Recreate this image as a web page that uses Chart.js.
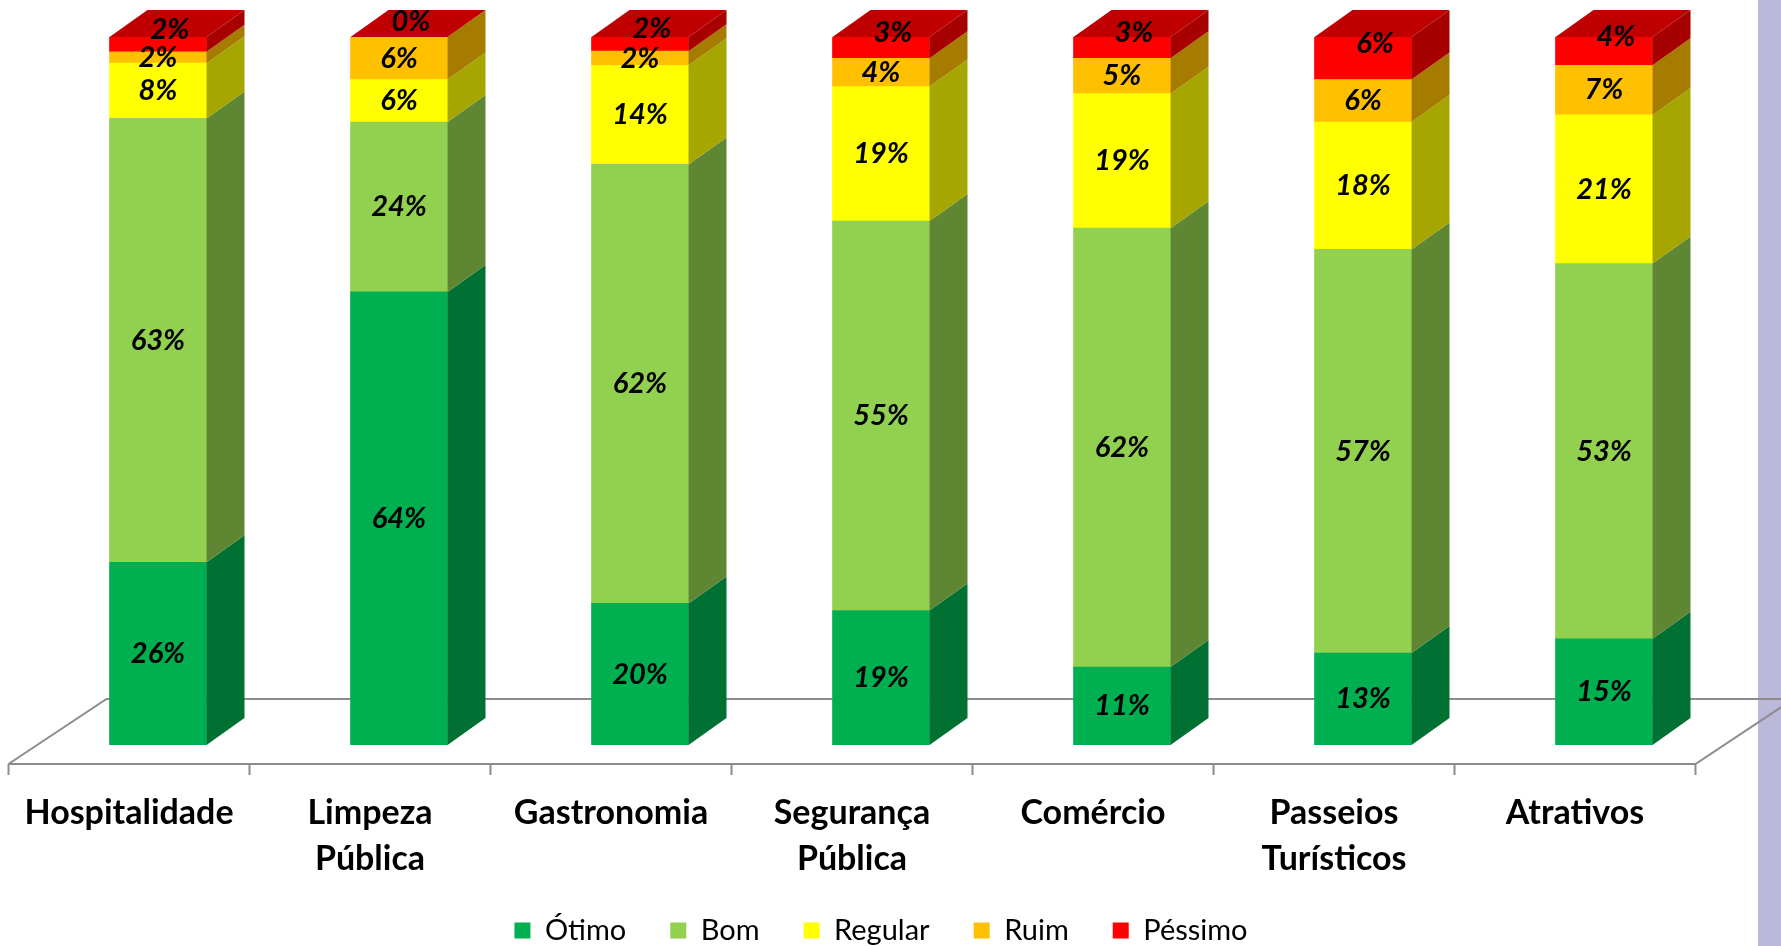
<!DOCTYPE html>
<html>
<head>
<meta charset="utf-8">
<script src="https://cdn.jsdelivr.net/npm/chart.js@4.4.1/dist/chart.umd.min.js"></script>
<style>
  html, body { margin: 0; padding: 0; background: #fff; overflow: hidden; }
  #strip { position: absolute; left: 1758px; top: 0; width: 23px; height: 946px; background: #bbb8d9; }
  #wrap { position: absolute; left: 0; top: 0; width: 1781px; height: 946px; }
</style>
</head>
<body>
<div id="strip"></div>
<div id="wrap"><canvas id="c"></canvas></div>
<script>
// categories and series (percent of answers)
const categories = ['Hospitalidade', ['Limpeza', 'Pública'], 'Gastronomia', ['Segurança', 'Pública'], 'Comércio', ['Passeios', 'Turísticos'], 'Atrativos'];
const seriesNames = ['Ótimo', 'Bom', 'Regular', 'Ruim', 'Péssimo'];
const otimo   = [25.8, 64, 20, 19, 11, 13, 15];
const bom     = [62.7, 24, 62, 55, 62, 57, 53];
const regular = [7.8, 6, 14, 19, 19, 18, 21];
const ruim    = [1.6, 6, 2, 4, 5, 6, 7];
const pessimo = [2.1, 0, 2, 3, 3, 6, 4];

const frontColors = ['#00b050', '#92d050', '#ffff00', '#ffc000', '#ff0000'];
const sideColors  = ['#007133', '#5f8633', '#a6a600', '#a67c00', '#a60000'];
const topColor = '#c00000';

// depth of the fake 3d boxes
const DX = 38, DY = 27;

const bar3d = {
  id: 'bar3d',
  beforeDatasetsDraw(chart) {
    // floor of the chart, slightly shifted left as in excel 3d
    const ctx = chart.ctx, x = chart.scales.x, a = chart.chartArea;
    const step = (x.right - x.left) / categories.length;
    const shift = -29;
    const yBack = a.bottom - 46, yFront = a.bottom + 19;
    const xL = x.left + shift, xR = x.right + shift;
    ctx.save();
    ctx.strokeStyle = '#8c8c8c';
    ctx.lineWidth = 2;
    ctx.beginPath();
    ctx.moveTo(xL, yFront); ctx.lineTo(xL + 98, yBack); ctx.lineTo(chart.width, yBack);
    ctx.moveTo(xL, yFront); ctx.lineTo(xR, yFront); ctx.lineTo(xR + 98, yBack);
    for (let i = 0; i <= categories.length; i++) {
      const t = xL + i * step;
      ctx.moveTo(t, yFront); ctx.lineTo(t, yFront + 11);
    }
    ctx.stroke();
    ctx.restore();
  },
  afterDatasetsDraw(chart) {
    const ctx = chart.ctx;
    const n = chart.data.datasets.length;
    ctx.save();
    for (let d = 0; d < n; d++) {
      const meta = chart.getDatasetMeta(d);
      meta.data.forEach(el => {
        const w = el.width;
        const l = el.x - w / 2, r = el.x + w / 2;
        const top = Math.min(el.y, el.base), bot = Math.max(el.y, el.base);
        ctx.fillStyle = sideColors[d];
        ctx.beginPath();
        ctx.moveTo(r, top); ctx.lineTo(r + DX, top - DY); ctx.lineTo(r + DX, bot - DY); ctx.lineTo(r, bot);
        ctx.closePath(); ctx.fill();
        if (d === n - 1) {
          ctx.fillStyle = topColor;
          ctx.beginPath();
          ctx.moveTo(l, top); ctx.lineTo(l + DX, top - DY); ctx.lineTo(r + DX, top - DY); ctx.lineTo(r, top);
          ctx.closePath(); ctx.fill();
        }
      });
    }
    // value labels
    ctx.font = 'italic bold 29px Lato';
    ctx.fillStyle = '#000';
    ctx.textAlign = 'center';
    ctx.textBaseline = 'middle';
    for (let d = 0; d < n; d++) {
      const meta = chart.getDatasetMeta(d);
      const vals = chart.data.datasets[d].data;
      meta.data.forEach((el, i) => {
        let cx = el.x, cy = (el.y + el.base) / 2;
        if (d === n - 1) { cx += 12; cy -= 15; }
        ctx.fillText(Math.round(vals[i]) + '%', cx, cy);
      });
    }
    ctx.restore();
  }
};

const values = [otimo, bom, regular, ruim, pessimo];

new Chart(document.getElementById('c'), {
  type: 'bar',
  data: {
    labels: categories,
    datasets: values.map((v, i) => ({
      label: seriesNames[i],
      data: v,
      backgroundColor: frontColors[i],
      borderWidth: 0,
      barThickness: 97
    }))
  },
  options: {
    responsive: true,
    maintainAspectRatio: false,
    animation: false,
    layout: { padding: { left: 37.5, right: 56.5, top: 37, bottom: -9 } },
    scales: {
      x: {
        stacked: true,
        grid: { display: false, drawTicks: false },
        border: { display: false },
        ticks: {
          color: '#000',
          font: { family: 'Lato', size: 34, weight: 'bold', lineHeight: '46px' },
          padding: 45,
          labelOffset: -29,
          maxRotation: 0,
          autoSkip: false
        },
        afterFit(s) { s.height = 127; }
      },
      y: { stacked: true, display: false, min: 0, max: 100 }
    },
    plugins: {
      legend: {
        position: 'bottom',
        labels: { boxWidth: 16, boxHeight: 16, padding: 44, color: '#000', font: { family: 'Lato', size: 29 } }
      },
      tooltip: { enabled: false }
    }
  },
  plugins: [bar3d]
});
</script>
</body>
</html>
